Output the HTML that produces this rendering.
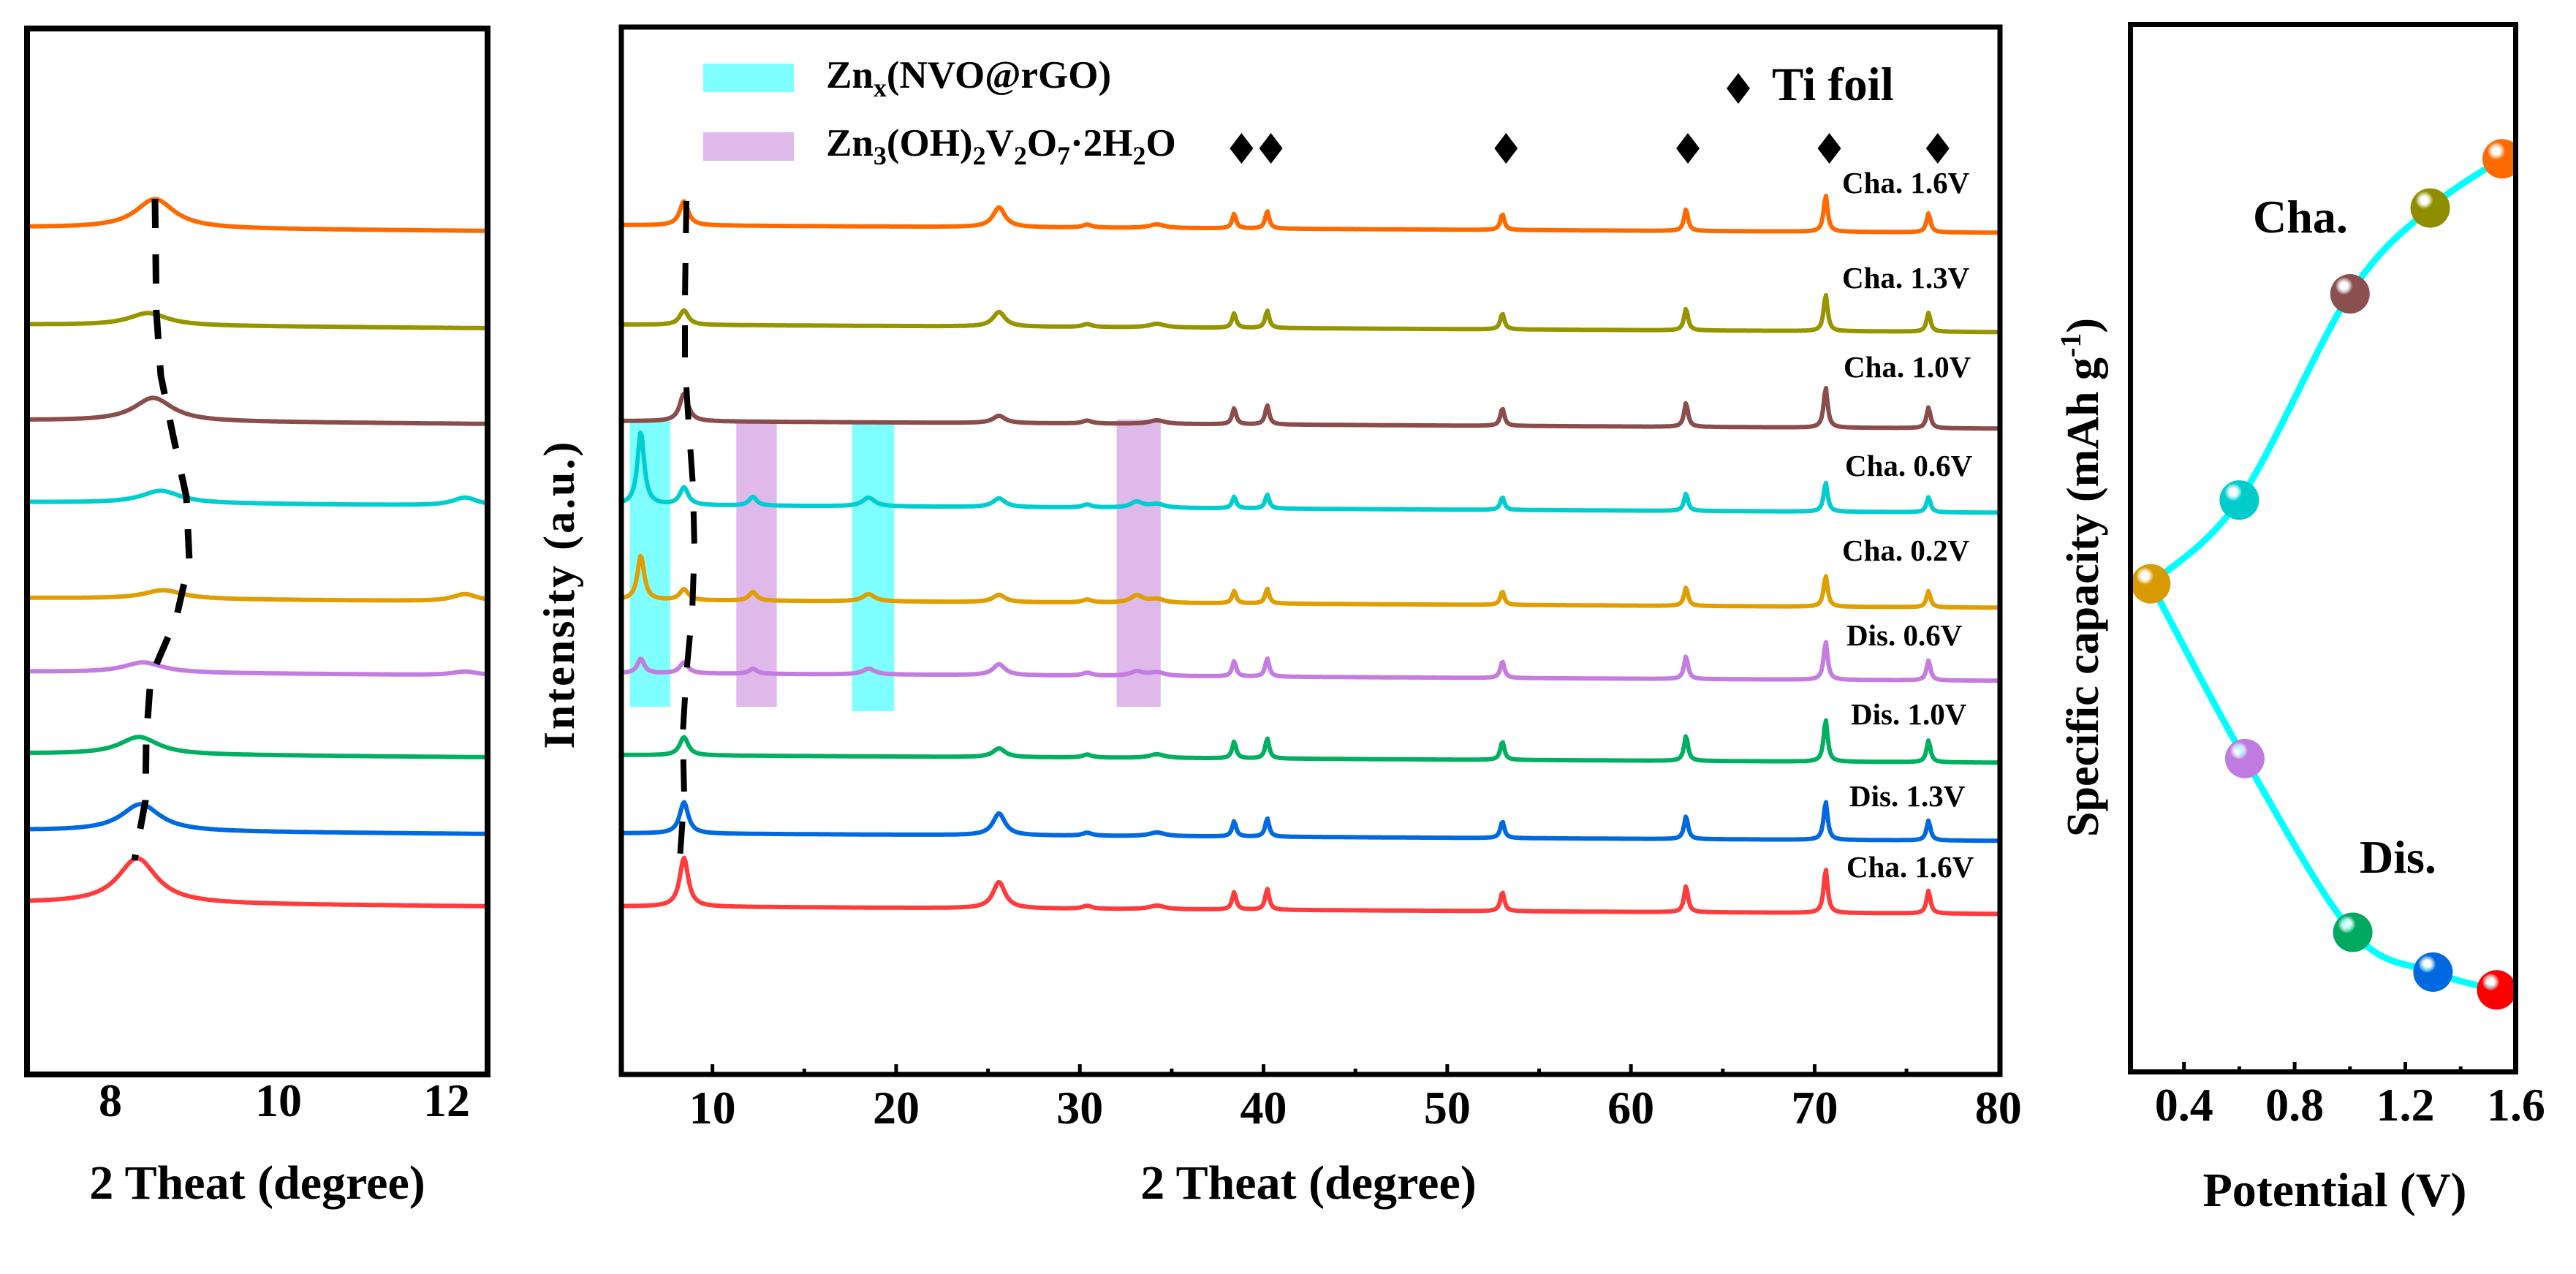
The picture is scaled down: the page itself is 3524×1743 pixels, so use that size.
<!DOCTYPE html>
<html><head><meta charset="utf-8"><style>
html,body{margin:0;padding:0;background:#fff;}
svg{display:block;font-family:"Liberation Serif",serif;font-weight:bold;}
</style></head><body>
<svg id="fig" width="3524" height="1743" viewBox="0 0 3524 1743" xmlns="http://www.w3.org/2000/svg">
<defs id="defs"></defs>
<g id="left"></g>
<g id="mid"></g>
<g id="right"></g>
</svg>
<script>
// ---------- data ----------
const seriesLabels = ['Cha. 1.6V','Cha. 1.3V','Cha. 1.0V','Cha. 0.6V','Cha. 0.2V','Dis. 0.6V','Dis. 1.0V','Dis. 1.3V','Cha. 1.6V'];
const seriesColors = ['#FF6A00','#959500','#8B4C4C','#00CDD0','#E09E00','#C47CE0','#00B060','#0068E0','#FF3B3B'];
// stacking offsets (a.u.)
const leftOffsets = [1162,1029,898,786,655,554,442,337,238];
const midOffsets = [1165,1029,897,782,652,552,440,333,233];
// left panel (zoomed 7-12.5 deg)
const leftPeakPos = [8.53,8.45,8.51,8.60,8.63,8.39,8.34,8.36,8.32];
const leftPeakH = [40,17,32,17,12,14,24,37,62];
const leftBumpH = [0,0,0,11,10,5,0,0,0];
const leftTicks = [8,10,12];
// middle panel peaks
const mainPeakH = [33,20,38,24,15,15,25,43,67];
const peak25H = [27,20,10,12,10,15,12,30,36];
const phaseA_H = [0,0,0,100,61,20,0,0,0];   // ~6.1 deg
const phaseB_H = [0,0,0,12,12,7,0,0,0];     // ~12.2 deg
const phaseC_H = [0,0,0,12,10,8,0,0,0];     // ~18.5 deg
const phaseD_H = [0,0,0,8,10,6,0,0,0];      // ~33.1 deg
const tiPos = [38.4,40.2,53.0,63.0,70.6,76.2];
const tiH = [20,24,22,30,50,26];
const tiScale = [1.0,1.0,1.1,0.8,0.85,1.05,1.15,1.05,1.2];
const diamondPos = [38.8,40.4,53.2,63.1,70.8,76.7];
const midTicksMajor = [10,20,30,40,50,60,70,80];
const midTicksMinor = [15,25,35,45,55,65,75];
const bandStart = [5.5,11.3,17.6,32.0];
const bandEnd = [7.7,13.5,19.9,34.4];
const bandKind = ['nvo','znv','nvo','znv'];
// right panel
const chaV = [0.28,0.60,1.00,1.29,1.55];
const chaCap = [46.6,54.6,74.3,82.5,87.2];
const chaColors = ['#D89A00','#00CCCC','#8B4F4F','#8E8E00','#FF6A00'];
const disV = [0.28,0.62,1.01,1.30,1.53];
const disCap = [46.6,29.9,13.3,9.5,7.8];
const disColors = ['#D89A00','#C07BE0','#00A860','#0068E0','#FF0000'];
const rightTicksMajor = [0.4,0.8,1.2,1.6];
const rightTicksMinor = [0.6,1.0,1.4];

// ---------- helpers ----------
const NS='http://www.w3.org/2000/svg';
function mk(tag, attrs, parent){const e=document.createElementNS(NS,tag);for(const k in attrs)e.setAttribute(k,attrs[k]);parent.appendChild(e);return e;}
function lor(x,c,h,w){const d=(x-c)/w;return h/(1+d*d);}
const yInt = v => 1473 - v; // intensity a.u. -> px

// ---------- LEFT ----------
const L=document.getElementById('left');
const lx = d => 36 + (d-7)*115;
for(let i=0;i<9;i++){
  let pts=[];
  for(let px=38;px<=668;px+=2){
    const d=7+(px-36)/115;
    let v=leftOffsets[i]-(px-38)*0.008;
    v+=lor(d,leftPeakPos[i],leftPeakH[i],0.28);
    v+=lor(d,12.22,leftBumpH[i],0.18);
    pts.push(px.toFixed(1)+','+yInt(v).toFixed(1));
  }
  const p=mk('polyline',{points:pts.join(' '),fill:'none',stroke:seriesColors[i],'stroke-width':6,'stroke-linejoin':'round'},L);
  
  
}
const ld=mk('path',{d:'M212,272 L214,428 L220,514 L237,597 L255,680 L259,767 L241,846 L206,927 L200,1012 L199,1095 L184,1177',fill:'none',stroke:'#000','stroke-width':9,'stroke-dasharray':'40 36'},L);


const lf=mk('rect',{x:37,y:39,width:630,height:1431,fill:'none',stroke:'#000','stroke-width':8},L);


leftTicks.forEach(t=>{
  const tx=mk('text',{x:lx(t),y:1527,'font-size':64,'text-anchor':'middle'},L);tx.textContent=t;
  
  
});
const lt=mk('text',{x:352,y:1640,'font-size':66,'text-anchor':'middle'},L);lt.textContent='2 Theat (degree)';



// ---------- MIDDLE ----------
const M=document.getElementById('mid');
const mx = d => 849 + (d-5)*25.13;
for(let b=0;b<4;b++){
  const r=mk('rect',{x:mx(bandStart[b]),y:bandKind[b]==='nvo'&&b===2?580:574,width:mx(bandEnd[b])-mx(bandStart[b]),height:393,fill:bandKind[b]==='nvo'?'#00FFFF':'#C77FDB','fill-opacity':bandKind[b]==='nvo'?0.5:0.55},M);
  
  
}
for(let i=0;i<9;i++){
  let pts=[];
  for(let px=852;px<=2734;px+=2){
    const d=5+(px-849)/25.13;
    let v=midOffsets[i]-(px-852)*0.0055;
    v+=lor(d,8.45,mainPeakH[i],0.28);
    v+=lor(d,25.6,peak25H[i],0.4);
    v+=lor(d,30.4,4,0.3)+lor(d,34.2,5,0.5);
    v+=lor(d,6.1,phaseA_H[i],0.22);
    v+=lor(d,12.2,phaseB_H[i],0.25);
    v+=lor(d,18.5,phaseC_H[i],0.4);
    v+=lor(d,33.1,phaseD_H[i],0.4);
    for(let k=0;k<tiPos.length;k++) v+=lor(d,tiPos[k],tiH[k]*tiScale[i],0.13);
    pts.push(px.toFixed(1)+','+yInt(v).toFixed(1));
  }
  const p=mk('polyline',{points:pts.join(' '),fill:'none',stroke:seriesColors[i],'stroke-width':6,'stroke-linejoin':'round'},M);
  
  
}
const md=mk('path',{d:'M939,275 L937,408 L937,496 L942,580 L948,665 L950,751 L947,836 L939,921 L934,1005 L936,1089 L930,1176',fill:'none',stroke:'#000','stroke-width':8,'stroke-dasharray':'44 41'},M);


const labelX=[2520,2520,2522,2524,2520,2526,2532,2530,2526];
const labelY=[264,394,516,651,767,883,991,1103,1200];
for(let i=0;i<9;i++){
  const t=mk('text',{x:labelX[i],y:labelY[i],'font-size':41},M);t.textContent=seriesLabels[i];
  
  
}
diamondPos.forEach(d=>{
  const x=mx(d);
  const dm=mk('path',{d:`M${x},182 L${x+16},203 L${x},224 L${x-16},203 Z`,fill:'#000'},M);
  
  
});
// legend
const lg=mk('g',{},M);


const lr1=mk('rect',{x:962,y:87,width:124,height:39,fill:'#00FFFF','fill-opacity':0.5},lg);


const lr2=mk('rect',{x:962,y:181,width:124,height:39,fill:'#C77FDB','fill-opacity':0.55},lg);


const lt1=mk('text',{x:1130,y:120,'font-size':53},lg);
lt1.innerHTML='Zn<tspan font-size="36" dy="12">x</tspan><tspan dy="-12">(NVO@rGO)</tspan>';


const lt2=mk('text',{x:1130,y:213,'font-size':53},lg);
lt2.innerHTML='Zn<tspan font-size="36" dy="12">3</tspan><tspan dy="-12">(OH)</tspan><tspan font-size="36" dy="12">2</tspan><tspan dy="-12">V</tspan><tspan font-size="36" dy="12">2</tspan><tspan dy="-12">O</tspan><tspan font-size="36" dy="12">7</tspan><tspan dy="-12">·2H</tspan><tspan font-size="36" dy="12">2</tspan><tspan dy="-12">O</tspan>';


const tdm=mk('path',{d:'M2378,100 L2394,121 L2378,142 L2362,121 Z',fill:'#000'},lg);


const tt=mk('text',{x:2424,y:137,'font-size':65},lg);tt.textContent='Ti foil';


// frame & axes
const mf=mk('rect',{x:850,y:37,width:1886,height:1433,fill:'none',stroke:'#000','stroke-width':7},M);


midTicksMajor.forEach(t=>{
  if(t<80){const tk=mk('line',{x1:mx(t),x2:mx(t),y1:1467,y2:1456,stroke:'#000','stroke-width':5},M);
  
  }
  const tx=mk('text',{x:mx(t),y:1537,'font-size':64,'text-anchor':'middle'},M);tx.textContent=t;
  
  
});
midTicksMinor.forEach(t=>{
  const tk=mk('line',{x1:mx(t),x2:mx(t),y1:1467,y2:1462,stroke:'#000','stroke-width':5},M);
  
  
});
const mxt=mk('text',{x:1790,y:1640,'font-size':66,'text-anchor':'middle'},M);mxt.textContent='2 Theat (degree)';


const myt=mk('text',{x:0,y:0,'font-size':60,'text-anchor':'middle','letter-spacing':3,transform:'translate(785,813) rotate(-90)'},M);myt.textContent='Intensity (a.u.)';



// ---------- RIGHT ----------
const R=document.getElementById('right');
const defs=document.getElementById('defs');
const rx = v => 2912 + (v-0.2)*378.5;
const ry = c => 1466 - c*14.32;
function smoothPath(xs,ys){
  const P=xs.map((v,i)=>[rx(v),ry(ys[i])]);
  let d=`M${P[0][0]},${P[0][1]}`;
  for(let i=0;i<P.length-1;i++){
    const p0=P[Math.max(0,i-1)],p1=P[i],p2=P[i+1],p3=P[Math.min(P.length-1,i+2)];
    const c1=[p1[0]+(p2[0]-p0[0])/6,p1[1]+(p2[1]-p0[1])/6];
    const c2=[p2[0]-(p3[0]-p1[0])/6,p2[1]-(p3[1]-p1[1])/6];
    d+=` C${c1[0]},${c1[1]} ${c2[0]},${c2[1]} ${p2[0]},${p2[1]}`;
  }
  return d;
}
const cp=mk('path',{d:smoothPath(chaV,chaCap),fill:'none',stroke:'#00FFFF','stroke-width':9},R);


const dp=mk('path',{d:smoothPath(disV,disCap),fill:'none',stroke:'#00FFFF','stroke-width':9},R);


let gid=0;
function ball(v,c,col,name){
  const id='g'+(gid++);
  const g=mk('radialGradient',{id:id,cx:'0.35',cy:'0.3',r:'0.75'},defs);
  mk('stop',{offset:'0','stop-color':'#fff'},g);
  mk('stop',{offset:'0.12','stop-color':'#fff','stop-opacity':0.7},g);
  mk('stop',{offset:'0.3','stop-color':col},g);
  mk('stop',{offset:'1','stop-color':col},g);
  const e=mk('circle',{cx:rx(v),cy:ry(c),r:27,fill:`url(#${id})`},R);
  
  
}
for(let i=0;i<chaV.length;i++) ball(chaV[i],chaCap[i],chaColors[i],'charge-point-'+i);
for(let i=1;i<disV.length;i++) ball(disV[i],disCap[i],disColors[i],'discharge-point-'+i);
// mask overflow beyond frame
const cover=mk('rect',{x:3442,y:0,width:82,height:1480,fill:'#fff'},R);


const rf=mk('rect',{x:2914.5,y:33.5,width:527,height:1433,fill:'none',stroke:'#000','stroke-width':7},R);


rightTicksMajor.forEach(t=>{
  if(t<1.6){const tk=mk('line',{x1:rx(t),x2:rx(t),y1:1464,y2:1453,stroke:'#000','stroke-width':5},R);
  
  }
  const tx=mk('text',{x:rx(t),y:1533,'font-size':64,'text-anchor':'middle'},R);tx.textContent=t.toFixed(1);
  
  
});
rightTicksMinor.forEach(t=>{
  const tk=mk('line',{x1:rx(t),x2:rx(t),y1:1464,y2:1459,stroke:'#000','stroke-width':5},R);
  
  
});
const ch=mk('text',{x:3082,y:318,'font-size':64},R);ch.textContent='Cha.';


const di=mk('text',{x:3228,y:1194,'font-size':64},R);di.textContent='Dis.';


const rxt=mk('text',{x:3194,y:1650,'font-size':66,'text-anchor':'middle'},R);rxt.textContent='Potential (V)';


const ryt=mk('text',{x:0,y:0,'font-size':62,'text-anchor':'middle',transform:'translate(2870,790) rotate(-90)'},R);
ryt.innerHTML='Specific capacity (mAh g<tspan font-size="40" dy="-24">-1</tspan><tspan dy="24">)</tspan>';


</script>
</body></html>
